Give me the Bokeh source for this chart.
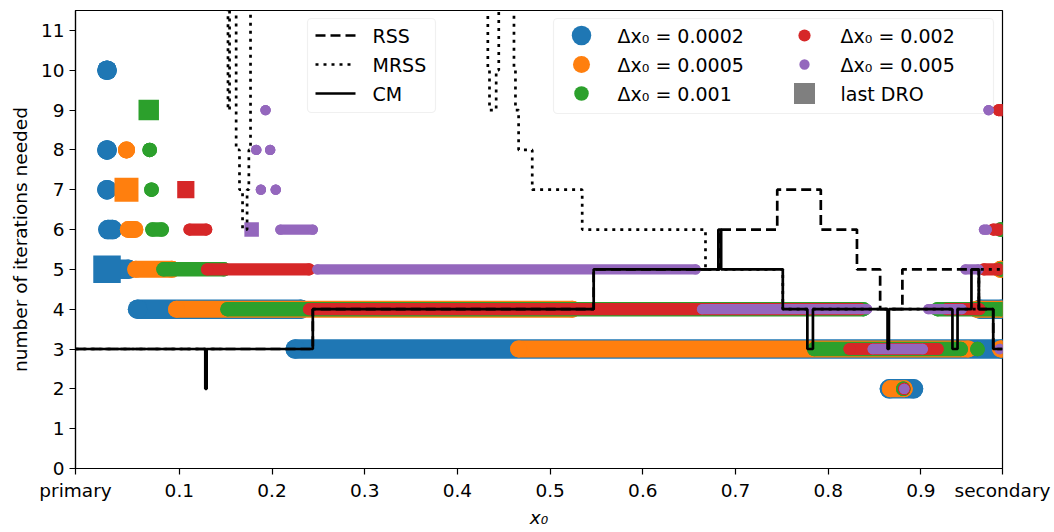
import math
from bokeh.plotting import figure
from bokeh.models import Range1d, FixedTicker, BoxAnnotation, Label
from bokeh.embed import file_html
from bokeh.resources import INLINE

# ---------------- data ----------------
# x axis runs from the primary (x = -mu) to the secondary (x = 1 - mu)
x_primary = -0.012
x_secondary = 0.988

# runs of computed points: start x, end x, number of iterations
blue_start = [0.022, 0.022, 0.022, 0.023, 0.022, 0.055, 0.225, 0.866, 0.964]
blue_end   = [0.022, 0.022, 0.022, 0.028, 0.045, 0.231, 0.987, 0.892, 0.987]
blue_iter  = [10, 8, 7, 6, 5, 4, 3, 2, 4]

orange_start = [0.043, 0.043, 0.045, 0.053, 0.097, 0.466, 0.867, 0.960, 0.986, 0.986]
orange_end   = [0.043, 0.043, 0.052, 0.092, 0.524, 0.951, 0.882, 0.987, 0.987, 0.987]
orange_iter  = [8, 7, 6, 5, 4, 3, 2, 4, 5, 3]

green_start = [0.068, 0.070, 0.071, 0.083, 0.152, 0.785, 0.961, 0.881, 0.918, 0.986, 0.986]
green_end   = [0.068, 0.070, 0.081, 0.148, 0.838, 0.943, 0.961, 0.881, 0.987, 0.987, 0.987]
green_iter  = [8, 7, 6, 5, 4, 3, 3, 2, 4, 5, 6]

red_start = [0.111, 0.130, 0.240, 0.823, 0.882, 0.928, 0.968, 0.978, 0.984]
red_end   = [0.129, 0.240, 0.835, 0.918, 0.882, 0.963, 0.984, 0.984, 0.987]
red_iter  = [6, 5, 4, 3, 2, 4, 5, 6, 9]

purple_start = [0.193, 0.183, 0.198, 0.188, 0.204, 0.209, 0.249, 0.664, 0.908, 0.848, 0.985, 0.882, 0.948, 0.968, 0.973]
purple_end   = [0.193, 0.183, 0.198, 0.188, 0.204, 0.244, 0.657, 0.842, 0.944, 0.902, 0.985, 0.882, 0.962, 0.971, 0.973]
purple_iter  = [9, 8, 8, 7, 7, 6, 5, 4, 4, 3, 3, 2, 5, 6, 9]

# last DRO points (one per step size)
dro_x    = [0.022, 0.043, 0.067, 0.107, 0.178]
dro_iter = [5, 7, 9, 7, 6]

# step lines: breakpoints and levels (level i holds on [x_i, x_{i+1}])
cm_x = [-0.012, 0.1280, 0.1295, 0.244, 0.547, 0.6815, 0.6845, 0.751, 0.7775, 0.7835,
        0.8640, 0.8655, 0.9340, 0.9395, 0.9545, 0.9625, 0.978, 0.988]
cm_y = [3, 2, 3, 4, 5, 6, 5, 4, 3, 4, 3, 4, 3, 4, 5, 4, 3]

rss_x = [-0.012, 0.244, 0.547, 0.683, 0.745, 0.792, 0.831, 0.856, 0.880, 0.9625, 0.978, 0.988]
rss_y = [3, 4, 5, 6, 7, 6, 5, 4, 5, 4, 3]

# MRSS: pieces (diverging parts run off the top of the axes)
mrss_pieces_x = [
    [-0.012, 0.1515],
    [0.1510, 0.1525, 0.1542, 0.1550],
    [0.1590, 0.1613, 0.1649, 0.1682, 0.1731, 0.1750, 0.1768, 0.1790],
    [0.4310, 0.4328, 0.4346, 0.4418, 0.4446, 0.4460],
    [0.4590, 0.4610, 0.4626, 0.4660, 0.4807, 0.5346, 0.6676, 0.751, 0.9625, 0.988],
]
mrss_pieces_y = [
    [3],
    [30, 9, 30],
    [30, 8, 7, 6, 7, 8, 30],
    [30, 10, 9, 10, 30],
    [30, 10, 9, 8, 7, 6, 5, 4, 5],
]

x_ticks = [x_primary, 0.1, 0.2, 0.3, 0.4, 0.5, 0.6, 0.7, 0.8, 0.9, x_secondary]
x_tick_labels = ["primary", "0.1", "0.2", "0.3", "0.4", "0.5", "0.6", "0.7", "0.8", "0.9", "secondary"]
y_ticks = list(range(0, 12))

series = [
    ("Δx₀ = 0.0002", "#1f77b4", 19.5, blue_start, blue_end, blue_iter),
    ("Δx₀ = 0.0005", "#ff7f0e", 17.0, orange_start, orange_end, orange_iter),
    ("Δx₀ = 0.001", "#2ca02c", 14.5, green_start, green_end, green_iter),
    ("Δx₀ = 0.002", "#d62728", 12.2, red_start, red_end, red_iter),
    ("Δx₀ = 0.005", "#9467bd", 10.3, purple_start, purple_end, purple_iter),
]

# ---------------- figure ----------------
W, H = 1054, 532
FL, FR, FT, FB = 75, 1002, 10, 468
FONT = "DejaVu Sans"

p = figure(width=W, height=H, output_backend="svg", toolbar_location=None,
           x_range=Range1d(x_primary, x_secondary), y_range=Range1d(0, 11.5),
           min_border_left=FL, min_border_right=W - FR,
           min_border_top=FT, min_border_bottom=H - FB)
p.background_fill_color = "white"
p.border_fill_color = "white"
p.outline_line_color = "black"
p.outline_line_width = 1.2
p.grid.visible = False

for ax in (p.xaxis[0], p.yaxis[0]):
    ax.axis_line_color = "black"
    ax.axis_line_width = 1.2
    ax.major_tick_line_color = "black"
    ax.major_tick_line_width = 1.2
    ax.major_tick_out = 6
    ax.major_tick_in = 0
    ax.minor_tick_line_color = None
    ax.major_label_text_font = FONT
    ax.major_label_text_font_size = "18.5px"
    ax.major_label_text_color = "black"
    ax.axis_label_text_font = FONT
    ax.axis_label_text_font_size = "18.5px"
    ax.axis_label_text_color = "black"
    ax.axis_label_text_font_style = "normal"

p.xaxis.ticker = FixedTicker(ticks=x_ticks)
p.xaxis.major_label_overrides = {t: l for t, l in zip(x_ticks, x_tick_labels)}
p.yaxis.ticker = FixedTicker(ticks=y_ticks)
p.xaxis.axis_label = "x₀"
p.xaxis.axis_label_text_font_style = "italic"
p.yaxis.axis_label = "number of iterations needed"
p.xaxis.axis_label_standoff = 3
p.yaxis.axis_label_standoff = 7

# scatter bands (dense points drawn as round-capped runs)
for (lab, col, d, xs0, xs1, ys), dx, dy in zip(series, dro_x, dro_iter):
    p.segment(x0=xs0, y0=ys, x1=xs1, y1=ys, line_color=col, line_width=d, line_cap="round")
    p.scatter(x=xs0 + xs1, y=ys + ys, size=d, fill_color=col, line_color=None)
    p.scatter(x=[dx], y=[dy], size=d * 1.41, marker="square", fill_color=col, line_color=None)


def step_path(xs, ys):
    px, py = [], []
    for i, v in enumerate(ys):
        px += [xs[i], xs[i + 1]]
        py += [v, v]
    return px, py


LW = 2.7
cx, cy = step_path(cm_x, cm_y)
p.line(cx, cy, line_color="black", line_width=LW)
rx, ry = step_path(rss_x, rss_y)
p.line(rx, ry, line_color="black", line_width=LW, line_dash="10 5")
mx, my = [], []
for xs, ys in zip(mrss_pieces_x, mrss_pieces_y):
    a, b = step_path(xs, ys)
    if mx:
        mx.append(float("nan")); my.append(float("nan"))
    mx += a; my += b
p.line(mx, my, line_color="black", line_width=LW, line_dash="3 5")

# ---------------- legends (positioned in pixels, converted to data) ----------------
def X(px):
    return x_primary + (px - FL) / (FR - FL) * (x_secondary - x_primary)


def Y(py):
    return (FB - py) / ((FB - FT) / 11.5)


LEG_FS = "19px"
p.add_layout(BoxAnnotation(left=X(307), right=X(435), top=Y(18), bottom=Y(112),
                           fill_color="white", fill_alpha=0.8, line_color="#cccccc",
                           line_width=1.2, border_radius=4, level="underlay"))
p.add_layout(BoxAnnotation(left=X(553), right=X(993), top=Y(18), bottom=Y(113),
                           fill_color="white", fill_alpha=0.8, line_color="#cccccc",
                           line_width=1.2, border_radius=4, level="underlay"))

rows = [35, 64, 93]
line_entries = [("RSS", "10 5"), ("MRSS", "3 5"), ("CM", "solid")]
for (lab, dash), ry_ in zip(line_entries, rows):
    p.line([X(315), X(355)], [Y(ry_), Y(ry_)], line_color="black", line_width=LW, line_dash=dash)
    p.add_layout(Label(x=X(372), y=Y(ry_), text=lab, text_font=FONT, text_font_size=LEG_FS,
                       text_baseline="middle", text_align="left", text_color="black"))

marker_cols = [581, 581, 581, 804, 804]
text_cols = [617, 617, 617, 840, 840]
marker_rows = [35, 64, 93, 35, 64]
for (lab, col, d, *_), mxp, txp, ryp in zip(series, marker_cols, text_cols, marker_rows):
    p.scatter(x=[X(mxp)], y=[Y(ryp)], size=d, fill_color=col, line_color=None)
    p.add_layout(Label(x=X(txp), y=Y(ryp), text=lab, text_font=FONT, text_font_size=LEG_FS,
                       text_baseline="middle", text_align="left", text_color="black"))
p.scatter(x=[X(804)], y=[Y(93)], size=21, marker="square", fill_color="#7f7f7f", line_color=None)
p.add_layout(Label(x=X(840), y=Y(93), text="last DRO", text_font=FONT, text_font_size=LEG_FS,
                   text_baseline="middle", text_align="left", text_color="black"))

open("out.html", "w").write(file_html(p, INLINE))
